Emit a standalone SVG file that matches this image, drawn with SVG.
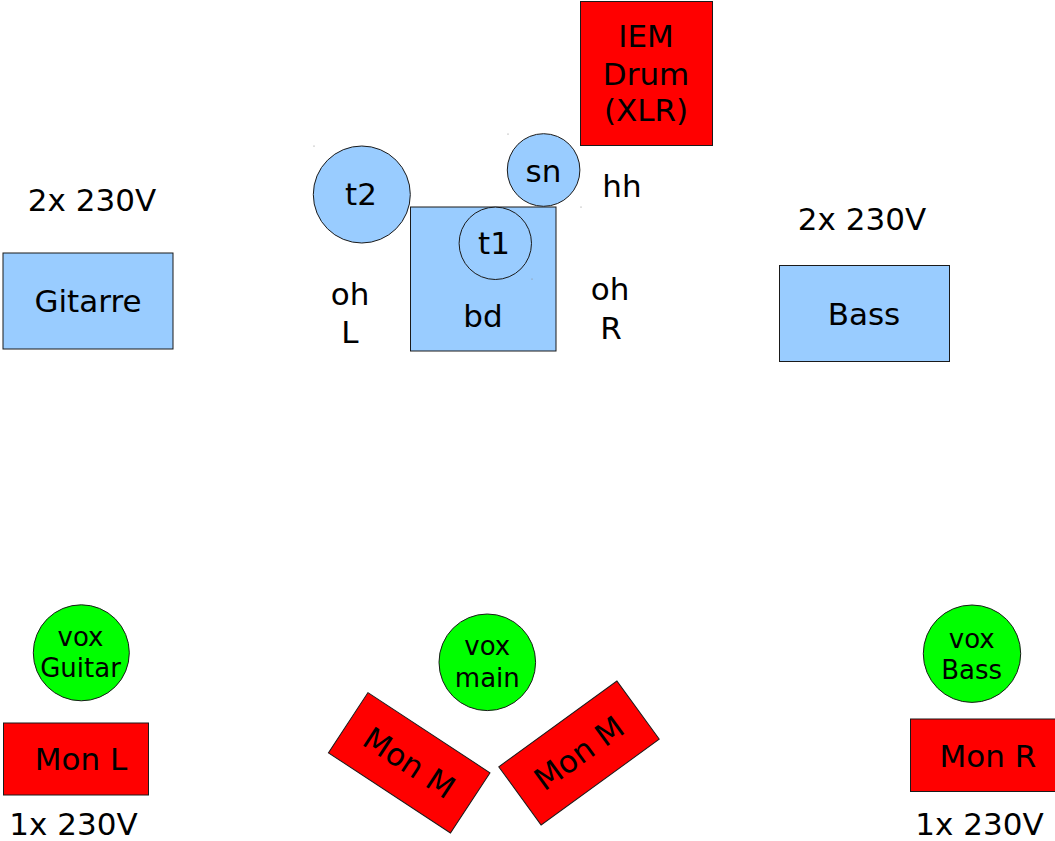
<svg xmlns="http://www.w3.org/2000/svg" width="1055" height="841" viewBox="0 0 1055 841">
<style>
.bg{fill:#ffffff}
.blue{fill:#99ccff;stroke:#1a1a1a;stroke-width:1}
.red{fill:#ff0000;stroke:#1a1a1a;stroke-width:1}
.green{fill:#00ff00;stroke:#1a1a1a;stroke-width:1}
text{font-family:"DejaVu Sans","Liberation Sans",sans-serif;fill:#000;text-anchor:middle}
.l{font-size:31px}
.s{font-size:26px}
.dot{fill:#888}
</style>
<rect class="bg" x="0" y="0" width="1055" height="841"/>

<g id="power-guitar"><text class="l" x="92" y="211">2x 230V</text></g>
<g id="gitarre"><rect class="blue" x="3" y="253" width="170" height="96"/><text class="l" x="88" y="312">Gitarre</text></g>

<g id="power-bass"><text class="l" x="862" y="230">2x 230V</text></g>
<g id="bass"><rect class="blue" x="779.5" y="265.5" width="170" height="96"/><text class="l" x="864" y="325">Bass</text></g>

<g id="iem-drum"><rect class="red" x="580.5" y="1.5" width="132" height="144"/>
<text class="l" x="646" y="47">IEM</text><text class="l" x="646" y="84.5">Drum</text><text class="l" x="646" y="121">(XLR)</text></g>

<g id="bd"><rect class="blue" x="410.5" y="207" width="145.5" height="144"/><text class="l" x="483" y="327">bd</text></g>
<g id="t2"><circle class="blue" cx="361.8" cy="194.5" r="48.5"/><text class="l" x="361" y="205">t2</text></g>
<g id="t1"><circle class="blue" cx="495.3" cy="243.3" r="36.2"/><text class="l" x="494" y="253.5">t1</text></g>
<g id="sn"><circle class="blue" cx="543.6" cy="170" r="36.3"/><text class="l" x="543.5" y="182">sn</text></g>
<g id="hh"><text class="l" x="622" y="197">hh</text></g>
<g id="oh-l"><text class="l" x="350" y="305">oh</text><text class="l" x="350" y="343">L</text></g>
<g id="oh-r"><text class="l" x="610" y="300">oh</text><text class="l" x="611" y="338.5">R</text></g>
<g id="artifacts"><circle class="dot" cx="314" cy="146" r="0.6"/><circle class="dot" cx="508" cy="134" r="0.6"/><circle class="dot" cx="581" cy="207" r="0.6"/><circle class="dot" cx="532" cy="279" r="0.6"/></g>

<g id="vox-guitar"><circle class="green" cx="81.3" cy="652.8" r="48"/><text class="s" x="80.5" y="646">vox</text><text class="s" x="80.5" y="677">Guitar</text></g>
<g id="mon-l"><rect class="red" x="3.5" y="723" width="145" height="72"/><text class="l" x="81" y="770">Mon L</text></g>
<g id="power-mon-l"><text class="l" x="73.5" y="835">1x 230V</text></g>

<g id="vox-main"><circle class="green" cx="487.3" cy="662.3" r="48.3"/><text class="s" x="487.3" y="655">vox</text><text class="s" x="487.3" y="687">main</text></g>
<g id="mon-m-left" transform="translate(409.2,762.8) rotate(33.3)"><rect class="red" x="-73" y="-36" width="146" height="72"/><text class="l" x="0" y="11">Mon M</text></g>
<g id="mon-m-right" transform="translate(579,753) rotate(-36)"><rect class="red" x="-73" y="-36" width="146" height="72"/><text class="l" x="0" y="11">Mon M</text></g>

<g id="vox-bass"><circle class="green" cx="972" cy="653.7" r="48.7"/><text class="s" x="971.7" y="648">vox</text><text class="s" x="971.7" y="679">Bass</text></g>
<g id="mon-r"><rect class="red" x="910.5" y="719" width="145" height="72.5"/><text class="l" x="988" y="767">Mon R</text></g>
<g id="power-mon-r"><text class="l" x="979.5" y="835">1x 230V</text></g>
</svg>
